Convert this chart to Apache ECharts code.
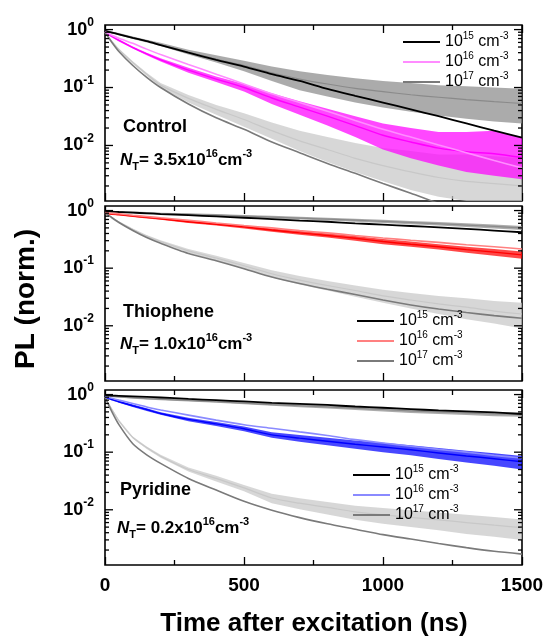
<!DOCTYPE html>
<html><head><meta charset="utf-8">
<script src="https://cdn.jsdelivr.net/npm/echarts@6/dist/echarts.min.js"></script>
<style>html,body{margin:0;padding:0;background:#fff}#c{width:547px;height:637px}</style>
</head><body><div id="c"></div>
<script>
// ---- data ----
const T = [0,25,50,100,150,200,300,400,500,600,700,800,900,1000,1100,1200,1300,1400,1500];
const X_TICK_LABELS = ['0','500','1000','1500'];
const Y_MINOR = [0.002,0.003,0.004,0.005,0.006,0.007,0.008,0.009,0.02,0.03,0.04,0.05,0.06,0.07,0.08,0.09,0.2,0.3,0.4,0.5,0.6,0.7,0.8,0.9];
const Y_MAJOR = [0.01,0.1,1];
const PANEL_NAMES = ['Control','Thiophene','Pyridine'];
const NT_VALUES = ['3.5','1.0','0.2'];
const DENSITY_EXP = ['15','16','17'];

// Control
const FIT15_CONTROL = [0.95,0.89,0.83,0.72,0.63,0.54,0.4,0.3,0.23,0.17,0.13,0.095,0.072,0.055,0.042,0.032,0.024,0.018,0.0136];
const D15_CONTROL    = [0.95,0.89,0.83,0.72,0.63,0.55,0.41,0.31,0.24,0.18,0.14,0.115,0.097,0.085,0.075,0.068,0.062,0.057,0.053];
const D15_CONTROL_LO = [0.91,0.86,0.8,0.69,0.6,0.52,0.37,0.27,0.19,0.13,0.09,0.07,0.055,0.045,0.038,0.033,0.029,0.026,0.024];
const D15_CONTROL_HI = [0.99,0.93,0.87,0.76,0.67,0.59,0.45,0.36,0.29,0.23,0.19,0.165,0.145,0.13,0.12,0.11,0.105,0.1,0.095];
const FIT16_CONTROL = [0.92,0.8,0.71,0.58,0.46,0.37,0.25,0.17,0.115,0.078,0.055,0.039,0.027,0.019,0.014,0.0102,0.0075,0.0055,0.0041];
const D16_CONTROL    = [0.9,0.76,0.65,0.49,0.38,0.3,0.2,0.14,0.1,0.066,0.046,0.032,0.022,0.015,0.0115,0.009,0.0078,0.0072,0.0062];
const D16_CONTROL_LO = [0.86,0.73,0.62,0.47,0.36,0.28,0.18,0.125,0.085,0.052,0.034,0.022,0.014,0.0085,0.006,0.0045,0.0035,0.003,0.0026];
const D16_CONTROL_HI = [0.94,0.79,0.68,0.51,0.4,0.32,0.22,0.155,0.115,0.08,0.058,0.043,0.032,0.024,0.02,0.017,0.017,0.018,0.014];
const FIT17_CONTROL = [0.9,0.6,0.42,0.24,0.15,0.1,0.052,0.03,0.019,0.0115,0.0075,0.0049,0.0033,0.0022,0.0015,0.001,0.0007,0.0005,0.00035];
const D17_CONTROL    = [0.9,0.62,0.45,0.27,0.17,0.11,0.065,0.042,0.028,0.018,0.012,0.0085,0.006,0.0045,0.0035,0.0028,0.0024,0.0022,0.002];
const D17_CONTROL_LO = [0.86,0.59,0.43,0.255,0.16,0.1,0.055,0.034,0.021,0.013,0.008,0.0052,0.0035,0.0024,0.0017,0.0013,0.0011,0.0011,0.0011];
const D17_CONTROL_HI = [0.94,0.65,0.47,0.285,0.18,0.12,0.074,0.05,0.036,0.025,0.018,0.014,0.011,0.009,0.008,0.007,0.007,0.0065,0.006];

// Thiophene
const FIT15_THIO = [0.97,0.96,0.945,0.92,0.895,0.87,0.83,0.79,0.75,0.71,0.67,0.64,0.6,0.57,0.54,0.51,0.48,0.45,0.42];
const D15_THIO    = [0.97,0.96,0.95,0.93,0.91,0.89,0.86,0.83,0.8,0.77,0.74,0.71,0.68,0.65,0.62,0.59,0.56,0.53,0.5];
const D15_THIO_LO = [0.95,0.94,0.93,0.9,0.88,0.86,0.82,0.79,0.76,0.73,0.7,0.67,0.64,0.61,0.58,0.55,0.52,0.49,0.46];
const D15_THIO_HI = [0.99,0.98,0.97,0.96,0.94,0.92,0.9,0.87,0.84,0.81,0.78,0.75,0.72,0.69,0.66,0.63,0.6,0.57,0.54];
const FIT16_THIO = [0.92,0.9,0.88,0.83,0.79,0.75,0.68,0.61,0.55,0.5,0.45,0.41,0.37,0.335,0.305,0.28,0.255,0.235,0.215];
const D16_THIO    = [0.9,0.87,0.85,0.8,0.76,0.72,0.64,0.58,0.52,0.46,0.41,0.37,0.33,0.29,0.26,0.235,0.21,0.19,0.17];
const D16_THIO_LO = [0.87,0.84,0.82,0.77,0.73,0.69,0.61,0.55,0.49,0.43,0.38,0.34,0.3,0.26,0.235,0.21,0.185,0.165,0.145];
const D16_THIO_HI = [0.93,0.9,0.88,0.83,0.79,0.75,0.67,0.61,0.55,0.49,0.44,0.4,0.36,0.32,0.29,0.26,0.235,0.215,0.195];
const FIT17_THIO = [0.92,0.75,0.62,0.45,0.34,0.27,0.18,0.135,0.098,0.07,0.054,0.043,0.035,0.028,0.023,0.0195,0.017,0.015,0.0135];
const D17_THIO    = [0.92,0.76,0.63,0.47,0.36,0.29,0.2,0.15,0.11,0.08,0.062,0.05,0.041,0.033,0.028,0.024,0.021,0.018,0.016];
const D17_THIO_LO = [0.9,0.74,0.61,0.45,0.345,0.275,0.185,0.135,0.097,0.069,0.052,0.041,0.032,0.025,0.02,0.016,0.013,0.011,0.009];
const D17_THIO_HI = [0.94,0.78,0.65,0.49,0.375,0.305,0.215,0.165,0.123,0.092,0.073,0.06,0.05,0.042,0.037,0.033,0.03,0.027,0.025];

// Pyridine
const FIT15_PYR = [0.97,0.96,0.95,0.93,0.91,0.89,0.84,0.8,0.76,0.72,0.69,0.66,0.62,0.59,0.56,0.53,0.51,0.49,0.46];
const D15_PYR    = [0.95,0.93,0.91,0.88,0.85,0.83,0.79,0.75,0.71,0.67,0.64,0.61,0.58,0.55,0.52,0.5,0.48,0.46,0.45];
const D15_PYR_LO = [0.93,0.91,0.89,0.85,0.82,0.8,0.76,0.72,0.68,0.64,0.6,0.57,0.54,0.51,0.48,0.46,0.44,0.42,0.41];
const D15_PYR_HI = [0.97,0.95,0.93,0.91,0.88,0.86,0.82,0.78,0.74,0.71,0.68,0.65,0.62,0.59,0.56,0.54,0.52,0.5,0.49];
const FIT16_PYR = [0.92,0.86,0.8,0.7,0.61,0.54,0.44,0.36,0.3,0.26,0.225,0.195,0.165,0.144,0.127,0.112,0.1,0.088,0.079];
const D16_PYR    = [0.9,0.82,0.75,0.64,0.55,0.47,0.37,0.31,0.255,0.2,0.175,0.155,0.137,0.123,0.11,0.097,0.086,0.077,0.068];
const D16_PYR_LO = [0.87,0.79,0.72,0.61,0.52,0.445,0.345,0.285,0.23,0.178,0.152,0.132,0.115,0.1,0.088,0.076,0.066,0.058,0.05];
const D16_PYR_HI = [0.93,0.85,0.78,0.67,0.58,0.495,0.395,0.335,0.28,0.222,0.198,0.178,0.16,0.146,0.132,0.118,0.106,0.096,0.086];
const FIT17_PYR = [0.9,0.5,0.3,0.14,0.09,0.064,0.035,0.022,0.014,0.0098,0.0073,0.0057,0.0046,0.0037,0.0031,0.0026,0.0022,0.0019,0.0017];
const D17_PYR    = [0.9,0.55,0.35,0.18,0.12,0.085,0.05,0.035,0.024,0.016,0.013,0.011,0.0092,0.0082,0.0074,0.0067,0.006,0.0054,0.0049];
const D17_PYR_LO = [0.87,0.53,0.335,0.172,0.114,0.08,0.046,0.031,0.021,0.013,0.0102,0.0083,0.0067,0.0057,0.005,0.0044,0.0038,0.0034,0.003];
const D17_PYR_HI = [0.93,0.57,0.365,0.188,0.126,0.09,0.054,0.039,0.027,0.019,0.0158,0.0137,0.0117,0.0107,0.0098,0.009,0.0082,0.0075,0.0068];

// ---- layout / style ----
const FONT = '"Liberation Sans", Arial, sans-serif';
const YMIN = 0.0011, YMAX = 1.2;
const GRID_TOPS = [25, 206, 390];
const GRID_HEIGHTS = [176, 175, 175];
const GRID_LEFT = 105, GRID_WIDTH = 417;
const LEGEND_POS = [{left: 403, top: 31}, {left: 357, top: 310}, {left: 353, top: 464}];
const ANNOT_POS = [{x: 123, y: 127, ny: 160}, {x: 123, y: 312, ny: 344}, {x: 120, y: 490, ny: 528}];
const BAND_OPACITY = 0.72;

const panels = [
  {d15: [D15_CONTROL, D15_CONTROL_LO, D15_CONTROL_HI], d16: [D16_CONTROL, D16_CONTROL_LO, D16_CONTROL_HI], d17: [D17_CONTROL, D17_CONTROL_LO, D17_CONTROL_HI],
   f15: FIT15_CONTROL, f16: FIT16_CONTROL, f17: FIT17_CONTROL, c16: '#ff00ff', cf16: '#ff8cff'},
  {d15: [D15_THIO, D15_THIO_LO, D15_THIO_HI], d16: [D16_THIO, D16_THIO_LO, D16_THIO_HI], d17: [D17_THIO, D17_THIO_LO, D17_THIO_HI],
   f15: FIT15_THIO, f16: FIT16_THIO, f17: FIT17_THIO, c16: '#ff0000', cf16: '#ff8080'},
  {d15: [D15_PYR, D15_PYR_LO, D15_PYR_HI], d16: [D16_PYR, D16_PYR_LO, D16_PYR_HI], d17: [D17_PYR, D17_PYR_LO, D17_PYR_HI],
   f15: FIT15_PYR, f16: FIT16_PYR, f17: FIT17_PYR, c16: '#0000ff', cf16: '#8a8aff'}
];
const C_D15 = '#8a8a8a', C_D17 = '#c8c8c8', C_F15 = '#000000', C_F17 = '#7a7a7a';

const pairs = arr => T.map((t, i) => [t, arr[i]]);
const clampY = v => Math.min(YMAX, Math.max(YMIN, v));

function bandSeries(gi, lo, hi, color) {
  return {
    type: 'custom', xAxisIndex: gi * 2, yAxisIndex: gi, silent: true, clip: true,
    data: [[0, 1]],
    renderItem(params, api) {
      const pts = [];
      for (let i = 0; i < T.length; i++) pts.push(api.coord([T[i], clampY(hi[i])]));
      for (let i = T.length - 1; i >= 0; i--) pts.push(api.coord([T[i], clampY(lo[i])]));
      return {type: 'polygon', shape: {points: pts}, style: {fill: color, opacity: BAND_OPACITY}};
    }
  };
}
function lineSeries(gi, arr, color, width, name) {
  const s = {
    type: 'line', xAxisIndex: gi * 2, yAxisIndex: gi, data: pairs(arr), showSymbol: false, symbol: 'none',
    smooth: 0.25, silent: true, color: color, lineStyle: {color: color, width: width}, itemStyle: {color: color},
    clip: true, animation: false
  };
  if (name) s.name = name;
  return s;
}
function tickSeries(gi) {
  const data = Y_MINOR.map(v => [0, v, 0]).concat(Y_MAJOR.map(v => [0, v, 1]));
  return {
    type: 'custom', xAxisIndex: gi * 2, yAxisIndex: gi, silent: true, z: 10, clip: false,
    data: data,
    renderItem(params, api) {
      const v = api.value(1), major = api.value(2) === 1;
      const p0 = api.coord([0, v]), p1 = api.coord([1500, v]);
      const L = major ? 8 : 4;
      const ch = [
        {type: 'line', shape: {x1: p0[0], y1: p0[1], x2: p0[0] + L, y2: p0[1]}, style: {stroke: '#000', lineWidth: 1.3}},
        {type: 'line', shape: {x1: p1[0], y1: p1[1], x2: p1[0] - L, y2: p1[1]}, style: {stroke: '#000', lineWidth: 1.3}}
      ];
      if (major) {
        ch.push({type: 'text', x: p0[0] - 11, y: p0[1], style: {
          text: '{b|10}{s|' + Math.round(Math.log10(v)) + '}', align: 'right', verticalAlign: 'middle',
          rich: {
            b: {fontSize: 18, fontWeight: 'bold', fontFamily: FONT, fill: '#000', lineHeight: 26},
            s: {fontSize: 12, fontWeight: 'bold', fontFamily: FONT, fill: '#000', lineHeight: 13, verticalAlign: 'top'}
          }
        }});
      }
      return {type: 'group', children: ch};
    }
  };
}

const grids = [], xAxes = [], yAxes = [], series = [], legends = [], graphics = [];
panels.forEach((p, gi) => {
  grids.push({left: GRID_LEFT, top: GRID_TOPS[gi], width: GRID_WIDTH, height: GRID_HEIGHTS[gi],
    show: true, borderColor: '#000', borderWidth: 1.6, backgroundColor: 'transparent'});
  const baseX = {
    type: 'value', gridIndex: gi, min: 0, max: 1500, interval: 500,
    axisLine: {show: false}, splitLine: {show: false},
    axisTick: {show: true, inside: true, length: 8, lineStyle: {color: '#000', width: 1.3}},
    minorTick: {show: true, splitNumber: 2, length: 5, lineStyle: {color: '#000', width: 1.3}},
    minorSplitLine: {show: false}
  };
  xAxes.push(Object.assign({}, baseX, {position: 'bottom',
    axisLabel: {show: gi === 2, fontSize: 19, fontWeight: 'bold', color: '#000', fontFamily: FONT, margin: 11,
      formatter: v => X_TICK_LABELS[Math.round(v / 500)]}}));
  xAxes.push(Object.assign({}, baseX, {position: 'top', axisLabel: {show: false}}));
  yAxes.push({type: 'log', logBase: 10, gridIndex: gi, min: YMIN, max: YMAX,
    axisLine: {show: false}, axisTick: {show: false}, axisLabel: {show: false}, splitLine: {show: false}});

  const nm = PANEL_NAMES[gi];
  series.push(bandSeries(gi, p.d17[1], p.d17[2], C_D17));
  series.push(lineSeries(gi, p.d17[0], C_D17, 1.2));
  series.push(bandSeries(gi, p.d15[1], p.d15[2], C_D15));
  series.push(lineSeries(gi, p.d15[0], C_D15, 1.2));
  series.push(bandSeries(gi, p.d16[1], p.d16[2], p.c16));
  series.push(lineSeries(gi, p.d16[0], p.c16, 1.4));
  series.push(lineSeries(gi, p.f17, C_F17, 1.6, nm + '|17'));
  series.push(lineSeries(gi, p.f15, C_F15, 1.8, nm + '|15'));
  series.push(lineSeries(gi, p.f16, p.cf16, 1.6, nm + '|16'));
  series.push(tickSeries(gi));

  legends.push({
    orient: 'vertical', left: LEGEND_POS[gi].left, top: LEGEND_POS[gi].top, icon: 'rect',
    itemWidth: 37, itemHeight: 2, itemGap: 1, selectedMode: false, padding: 0,
    data: DENSITY_EXP.map(e => nm + '|' + e),
    formatter: name => '{b|10}{s|' + name.split('|')[1] + '}{b| cm}{s|-3}',
    textStyle: {color: '#000', fontFamily: FONT, rich: {
      b: {fontSize: 16, fontFamily: FONT, color: '#000', lineHeight: 22},
      s: {fontSize: 10, fontFamily: FONT, color: '#000', lineHeight: 10, verticalAlign: 'top'}
    }}
  });

  const a = ANNOT_POS[gi];
  graphics.push({type: 'text', x: a.x, y: a.y, style: {text: nm, font: 'bold 18px ' + FONT, fill: '#000', verticalAlign: 'middle'}});
  graphics.push({type: 'text', x: a.x - 3, y: a.ny, style: {
    text: '{i|N}{sub|T}{n|= ' + NT_VALUES[gi] + 'x10}{sup|16}{n|cm}{sup|-3}', verticalAlign: 'middle',
    rich: {
      n: {fontSize: 17, fontWeight: 'bold', fontFamily: FONT, fill: '#000', lineHeight: 24},
      i: {fontSize: 17, fontWeight: 'bold', fontStyle: 'italic', fontFamily: FONT, fill: '#000', lineHeight: 24},
      sup: {fontSize: 11, fontWeight: 'bold', fontFamily: FONT, fill: '#000', lineHeight: 12, verticalAlign: 'top'},
      sub: {fontSize: 11, fontWeight: 'bold', fontFamily: FONT, fill: '#000', lineHeight: 12, verticalAlign: 'bottom'}
    }
  }});
});

graphics.push({type: 'text', x: 26, y: 299, rotation: Math.PI / 2, style: {
  text: 'PL (norm.)', font: 'bold 28px ' + FONT, fill: '#000', align: 'center', verticalAlign: 'middle'}});
graphics.push({type: 'text', x: 314, y: 624, style: {
  text: 'Time after excitation (ns)', font: 'bold 26px ' + FONT, fill: '#000', align: 'center', verticalAlign: 'middle'}});

const chart = echarts.init(document.getElementById('c'), null, {renderer: 'canvas'});
chart.setOption({
  animation: false,
  backgroundColor: '#fff',
  grid: grids, xAxis: xAxes, yAxis: yAxes, series: series, legend: legends, graphic: graphics
});
</script></body></html>
